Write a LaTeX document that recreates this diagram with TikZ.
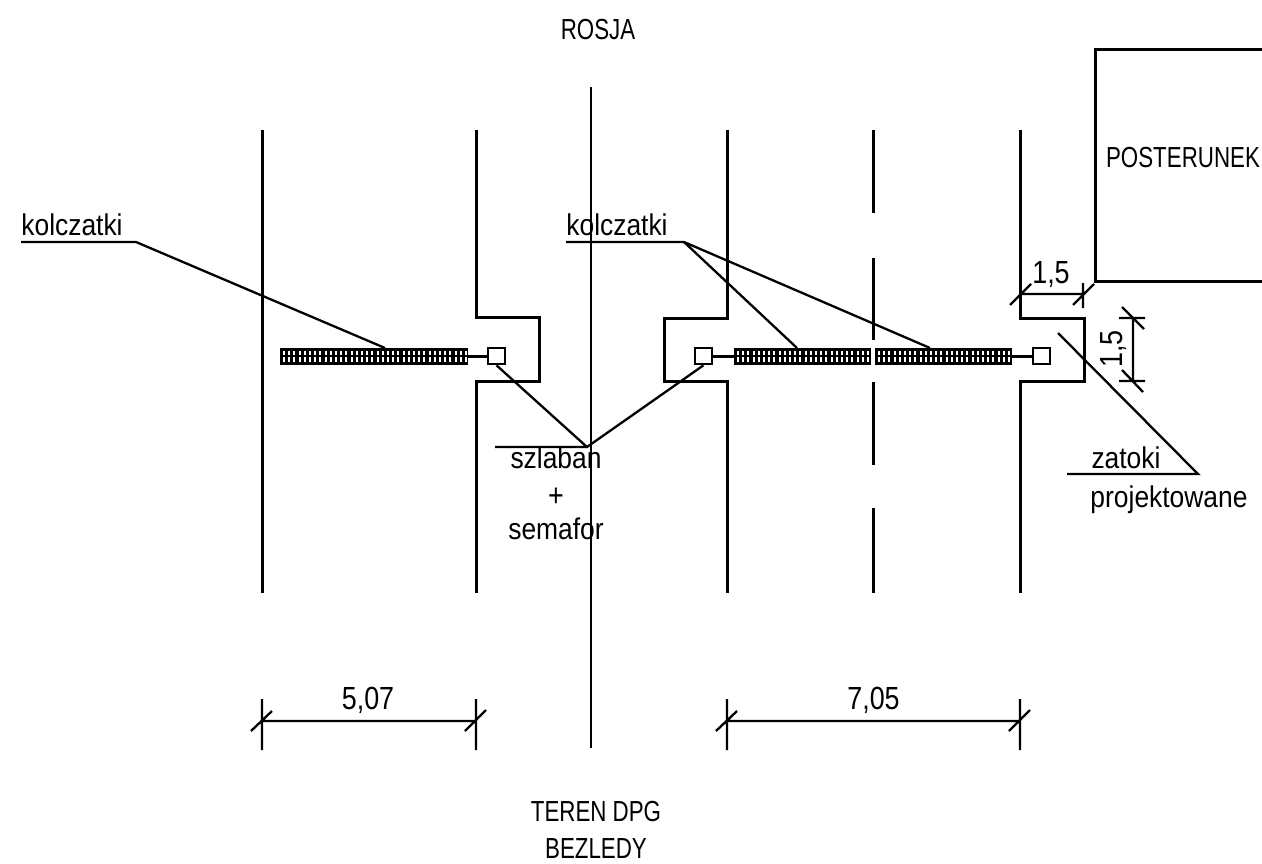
\documentclass[tikz,border=0pt]{standalone}
\usepackage{fontspec}
\newfontfamily\cad[FakeStretch=0.77]{Liberation Sans}
\newfontfamily\cadlow[FakeStretch=0.88]{Liberation Sans}
\newfontfamily\caddig[FakeStretch=0.84]{Liberation Sans}
\tikzset{
  wall/.style={draw=black,line width=3pt,line join=miter},
  thin line/.style={draw=black,line width=2.3pt},
  link/.style={draw=black,line width=3pt},
  label/.style={inner sep=0pt,anchor=base,font=\cad\fontsize{29}{34}\selectfont},
  lowlabel/.style={inner sep=0pt,anchor=base,font=\cadlow\fontsize{30}{34}\selectfont},
  diglabel/.style={inner sep=0pt,anchor=base,font=\caddig\fontsize{32}{36}\selectfont},
  sensor/.style={draw=black,fill=white,line width=2.6pt,minimum width=17pt,minimum height=16pt,inner sep=0pt},
}
\newcommand{\spikes}[3]{% name, x0, x1
  \fill[black] (#2,348) rectangle (#3,364.5);
  \pgfmathsetmacro{\nn}{int((#3-#2-5)/5.2)}
  \foreach \i in {0,...,\nn}{
    \fill[white] ({#2+3+\i*5.2},350.8) rectangle ({#2+5+\i*5.2},355.2);
    \fill[white] ({#2+3+\i*5.2},357.4) rectangle ({#2+5+\i*5.2},361.8);
  }
  \coordinate (#1W) at (#2,356);
  \coordinate (#1E) at (#3,356);
}
\begin{document}
\begin{tikzpicture}[x=1pt,y=-1pt]
\useasboundingbox (0,0) rectangle (1262,863);
% roads and bays
\draw[wall] (262,130) -- (262,593);
\draw[wall] (476,130) -- (476,317) -- (539,317) -- (539,381) -- (476,381) -- (476,593);
\draw[thin line] (591,87) -- (591,748);
\draw[wall] (727,130) -- (727,318) -- (664,318) -- (664,381) -- (727,381) -- (727,593);
\draw[wall] (873,130) -- (873,213) (873,258) -- (873,340) (873,382) -- (873,465) (873,508) -- (873,593);
\draw[wall] (1020,130) -- (1020,318) -- (1084,318) -- (1084,381) -- (1020,381) -- (1020,593);
\draw[wall] (1262,49) -- (1095,49) -- (1095,281) -- (1262,281);
% spike strips
\spikes{sa}{280}{468}
\spikes{sb}{734}{871}
\spikes{sc}{875}{1012}
% barrier squares
\node[sensor] (qa) at (496.5,356) {};
\node[sensor] (qb) at (703.5,356) {};
\node[sensor] (qc) at (1041.5,356) {};
\draw[link] (saE) -- (qa.west);
\draw[link] (qb.east) -- (sbW);
\draw[link] (scE) -- (qc.west);
% leaders
\coordinate (l1a) at (21,242); \coordinate (l1b) at (136,242); \coordinate (l1c) at (385,348);
\draw[thin line] (l1a) -- (l1b) -- (l1c);
\coordinate (l2a) at (566,242); \coordinate (l2b) at (684,242); \coordinate (l2c) at (797,348); \coordinate (l2d) at (930,348);
\draw[thin line] (l2a) -- (l2b) -- (l2c) (l2b) -- (l2d);
\coordinate (l3a) at (495,447); \coordinate (l3b) at (587,447);
\draw[thin line] (l3a) -- (l3b) (qa.south) -- (l3b) -- (qb.south);
\coordinate (l4a) at (1067,474); \coordinate (l4b) at (1198,474); \coordinate (l4c) at (1058,333);
\draw[thin line] (l4a) -- (l4b) -- (l4c);
% dimensions
\draw[thin line] (262,699) -- (262,750) (476,699) -- (476,750) (262,721) -- (476,721) (251,731) -- (272,711) (465,731) -- (486,710);
\draw[thin line] (727,699) -- (727,750) (1020,699) -- (1020,750) (727,721) -- (1020,721) (716,731) -- (737,711) (1009,731) -- (1030,710);
\draw[thin line] (1020,294) -- (1083,294) (1083,283) -- (1083,308) (1010,305) -- (1031,284) (1073,305) -- (1094,284);
\draw[thin line] (1133,318) -- (1133,381) (1119,318) -- (1145,318) (1119,381) -- (1145,381) (1122,307) -- (1144,329) (1122,370) -- (1143,392);
% texts
\node[label] (t1) at (598,39) {ROSJA};
\node[label] (t2) at (1183,167) {POSTERUNEK};
\node[lowlabel] (t3) at (72,235) {kolczatki};
\node[lowlabel] (t4) at (617,235) {kolczatki};
\node[lowlabel] (t5) at (556,468) {szlaban};
\node[diglabel] (t6) at (556,506) {+};
\node[lowlabel] (t7) at (556,539) {semafor};
\node[lowlabel] (t8) at (1126,468) {zatoki};
\node[lowlabel] (t9) at (1169,507) {projektowane};
\node[diglabel] (t10) at (368,709) {5,07};
\node[diglabel] (t11) at (873.5,709) {7,05};
\node[diglabel] (t12) at (1051,283) {1,5};
\node[diglabel,rotate=90] (t13) at (1122,349) {1,5};
\node[label] (t14) at (596,821) {TEREN DPG};
\node[label] (t15) at (596,858) {BEZLEDY};
\end{tikzpicture}
\end{document}
